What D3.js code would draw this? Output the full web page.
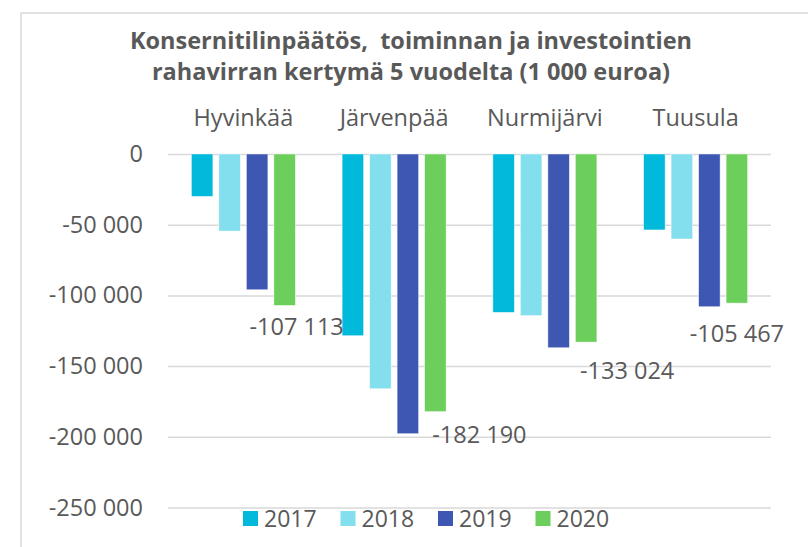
<!DOCTYPE html>
<meta charset="utf-8">
<script src="https://d3js.org/d3.v7.min.js"></script>
<style>
  body { margin: 0; background: #fff; }
  text { font-family: "Open Sans", sans-serif; fill: #595959; }
</style>
<div id="chart"></div>
<script>
    // data (1 000 euroa)
    var towns = ["Hyvinkää", "Järvenpää", "Nurmijärvi", "Tuusula"];
    var years = ["2017", "2018", "2019", "2020"];
    var v2017 = [-30000, -128500, -112000, -53700];
    var v2018 = [-54500, -166000, -114300, -60100];
    var v2019 = [-96000, -197800, -137000, -108000];
    var v2020 = [-107113, -182190, -133024, -105467];
    var yTicks = [0, -50000, -100000, -150000, -200000, -250000];
    var titleLines = ["Konsernitilinpäätös,  toiminnan ja investointien",
                      "rahavirran kertymä 5 vuodelta (1 000 euroa)"];

    var colors = ["#00b9db", "#83deee", "#3e57b3", "#6ccf5b"];
    var series = [v2017, v2018, v2019, v2020];
    // labels of 2020 were dragged by hand in the original, keep the nudges
    var labelNudge = [[12, 30], [44, 31], [41, 37], [0, 39]];

    var W = 808, H = 547;
    var svg = d3.select("#chart").append("svg")
        .attr("width", W)
        .attr("height", H);

    // chart frame (cut off at right and bottom)
    svg.append("rect")
        .attr("x", 21).attr("y", 13)
        .attr("width", 900).attr("height", 700)
        .attr("fill", "none")
        .attr("stroke", "#d9d9d9")
        .attr("stroke-width", 1.5);

    // title
    svg.append("text")
        .attr("text-anchor", "middle")
        .style("font-weight", "bold")
        .style("font-size", "23.5px")
        .style("white-space", "pre")
        .selectAll("tspan")
        .data(titleLines)
        .enter().append("tspan")
        .attr("x", 411)
        .attr("y", function(d, i) { return 49 + i * 31; })
        .text(function(d) { return d; });

    var x0 = d3.scaleBand()
        .domain(towns)
        .range([168, 771]);

    var x1 = d3.scaleBand()
        .domain(years)
        .range([0, x0.bandwidth()])
        .paddingInner(0.218)
        .paddingOuter(0.85);

    var y = d3.scaleLinear()
        .domain([-250000, 0])
        .range([507.5, 154]);

    var fmt = d3.formatLocale({decimal: ",", thousands: " ", grouping: [3], currency: ["", ""], minus: "-"}).format(",d");

    // gridlines + y labels
    var yAxis = svg.append("g")
        .attr("transform", "translate(168,0)")
        .call(d3.axisLeft(y).tickValues(yTicks).tickSize(-603).tickPadding(25).tickFormat(fmt));
    yAxis.select(".domain").remove();
    yAxis.selectAll("line").attr("stroke", "#d9d9d9").attr("stroke-width", 1.5);
    yAxis.selectAll("text")
        .style("font-size", "23.5px")
        .attr("fill", "#595959")
        .attr("font-family", "Open Sans");

    // town labels on top
    svg.append("g")
        .selectAll("text")
        .data(towns)
        .enter().append("text")
        .attr("x", function(d) { return x0(d) + x0.bandwidth() / 2; })
        .attr("y", 126)
        .attr("text-anchor", "middle")
        .style("font-size", "23.5px")
        .text(function(d) { return d; });

    // bars
    var groups = svg.append("g")
        .selectAll("g")
        .data(series)
        .enter().append("g")
        .attr("fill", function(d, i) { return colors[i]; });

    groups.selectAll("rect")
        .data(function(d, i) {
            return d.map(function(v, j) { return {town: towns[j], year: years[i], value: v}; });
        })
        .enter().append("rect")
        .attr("x", function(d) { return x0(d.town) + x1(d.year); })
        .attr("y", y(0))
        .attr("width", x1.bandwidth())
        .attr("height", function(d) { return y(d.value) - y(0); })
        .attr("stroke", "#ffffff")
        .attr("stroke-opacity", 0.6)
        .attr("stroke-width", 0.75);

    // value labels of 2020
    svg.append("g")
        .selectAll("text")
        .data(v2020)
        .enter().append("text")
        .attr("x", function(d, i) { return x0(towns[i]) + x1("2020") + x1.bandwidth() / 2 + labelNudge[i][0]; })
        .attr("y", function(d, i) { return y(d) + labelNudge[i][1]; })
        .attr("text-anchor", "middle")
        .style("font-size", "23.5px")
        .text(function(d) { return fmt(d); });

    // legend
    var legend = svg.append("g")
        .selectAll("g")
        .data(years)
        .enter().append("g")
        .attr("transform", function(d, i) { return "translate(" + (243 + i * 97.5) + ",511)"; });
    legend.append("rect")
        .attr("width", 15).attr("height", 15)
        .attr("fill", function(d, i) { return colors[i]; });
    legend.append("text")
        .attr("x", 21)
        .attr("y", 16)
        .style("font-size", "23px")
        .text(function(d) { return d; });
</script>
